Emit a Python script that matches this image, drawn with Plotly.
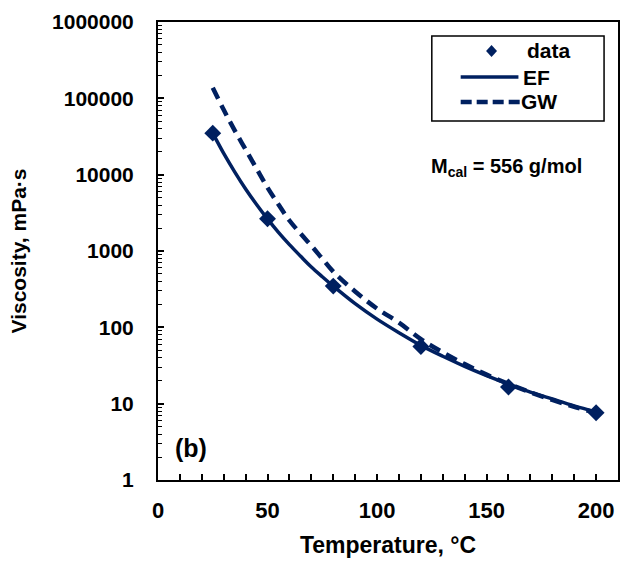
import plotly.graph_objects as go

# ---- data ----
temp_data = [25, 50, 80, 120, 160, 200]
visc_data = [35000, 2650, 347, 56, 16.5, 7.6]

temp_fit = [25, 30, 35, 40, 45, 50, 55, 60, 65, 70, 75, 80, 90, 100, 110, 120,
            130, 140, 150, 160, 170, 180, 190, 200]
visc_ef = [35000, 19000, 10900, 6500, 4070, 2630, 1750, 1210, 860, 617, 460, 347,
           204, 128, 85, 58, 41.8, 30.8, 23.3, 18.0, 14.2, 11.5, 9.35, 7.8]
visc_gw = [138000, 70800, 38000, 21400, 12000, 6760, 4070, 2510, 1700, 1175, 794, 537,
           295, 176, 115, 70, 47, 33, 24, 18.2, 14.1, 11.2, 9.1, 7.6]

series_names = ["data", "EF", "GW"]
y_tickvals = [1, 10, 100, 1000, 10000, 100000, 1000000]
y_ticktext = ["1", "10", "100", "1000", "10000", "100000", "1000000"]
x_tickvals = [0, 50, 100, 150, 200]

color = "#002060"
font = "Liberation Sans, Arial, sans-serif"

# plot area in pixels (for converting legend layout to paper coords)
PL, PR, PT, PB = 158, 620, 22, 480
def px(x):
    return (x - PL) / (PR - PL)
def py(y):
    return (PB - y) / (PB - PT)

fig = go.Figure()
fig.add_trace(go.Scatter(x=temp_data, y=visc_data, mode="markers", name=series_names[0],
                         marker=dict(symbol="diamond", size=13, color=color)))
fig.add_trace(go.Scatter(x=temp_fit, y=visc_ef, mode="lines", name=series_names[1],
                         line=dict(color=color, width=3.5, shape="spline")))
fig.add_trace(go.Scatter(x=temp_fit, y=visc_gw, mode="lines", name=series_names[2],
                         line=dict(color=color, width=4.5, dash="12px,7px", shape="spline")))

fig.update_layout(
    width=623, height=563,
    margin=dict(l=PL, r=623 - PR, t=PT, b=563 - PB),
    plot_bgcolor="white", paper_bgcolor="white",
    font=dict(family=font, color="black"),
    showlegend=False,
    xaxis=dict(range=[0, 210], tickvals=x_tickvals, ticks="inside", ticklen=6,
               tickwidth=1.5, tickcolor="black",
               minor=dict(ticks="inside", ticklen=6, dtick=10, tickwidth=1.5,
                          tickcolor="black", showgrid=False),
               showline=True, linecolor="black", linewidth=2, mirror=True,
               showgrid=False, zeroline=False,
               tickfont=dict(size=22, family=font, weight="bold"),
               ticklabelstandoff=10,
               title=dict(text="Temperature, °C", standoff=14,
                          font=dict(size=23, family=font, weight="bold"))),
    yaxis=dict(type="log", range=[0, 6], tickvals=y_tickvals, ticktext=y_ticktext,
               ticks="inside", ticklen=6, tickwidth=1.5, tickcolor="black",
               minor=dict(ticks="inside", ticklen=4, dtick="D1", tickwidth=1,
                          tickcolor="black", showgrid=False),
               showline=True, linecolor="black", linewidth=2, mirror=True,
               showgrid=False, zeroline=False,
               tickfont=dict(size=21, family=font, weight="bold"),
               ticklabelstandoff=18,
               title=dict(text="Viscosity, mPa·s", standoff=20,
                          font=dict(size=21, family=font, weight="bold"))),
)

# ---- custom legend ----
fig.add_shape(type="rect", xref="paper", yref="paper",
              x0=px(433), x1=px(606), y0=py(121), y1=py(36),
              line=dict(color="black", width=1.5), fillcolor="white", layer="above")
dx, dy = 5.5 / (PR - PL), 6 / (PB - PT)
cx, cy = px(493), py(51)
fig.add_shape(type="path", xref="paper", yref="paper",
              path=f"M {cx-dx} {cy} L {cx} {cy+dy} L {cx+dx} {cy} L {cx} {cy-dy} Z",
              fillcolor=color, line=dict(color=color, width=0), layer="above")
fig.add_shape(type="line", xref="paper", yref="paper",
              x0=px(462), x1=px(520), y0=py(77), y1=py(77),
              line=dict(color=color, width=3.5), layer="above")
fig.add_shape(type="line", xref="paper", yref="paper",
              x0=px(462), x1=px(522), y0=py(102), y1=py(102),
              line=dict(color=color, width=4.5, dash="11px,5px"), layer="above")
for name, xl, yl in zip(series_names, [527, 523, 521], [51, 77, 102]):
    fig.add_annotation(xref="paper", yref="paper", x=px(xl), y=py(yl),
                       xanchor="left", yanchor="middle", showarrow=False,
                       text=f"<b>{name}</b>",
                       font=dict(size=21, family=font, color="black"))

fig.add_annotation(xref="paper", yref="paper", x=px(430), y=py(167), xanchor="left",
                   yanchor="middle", showarrow=False,
                   text="<b>M<sub>cal</sub> = 556 g/mol</b>",
                   font=dict(size=20, family=font, color="black"))
fig.add_annotation(xref="paper", yref="paper", x=px(173), y=py(448), xanchor="left",
                   yanchor="middle", showarrow=False, text="<b>(b)</b>",
                   font=dict(size=25, family=font, color="black"))

fig.write_html("out.html")
